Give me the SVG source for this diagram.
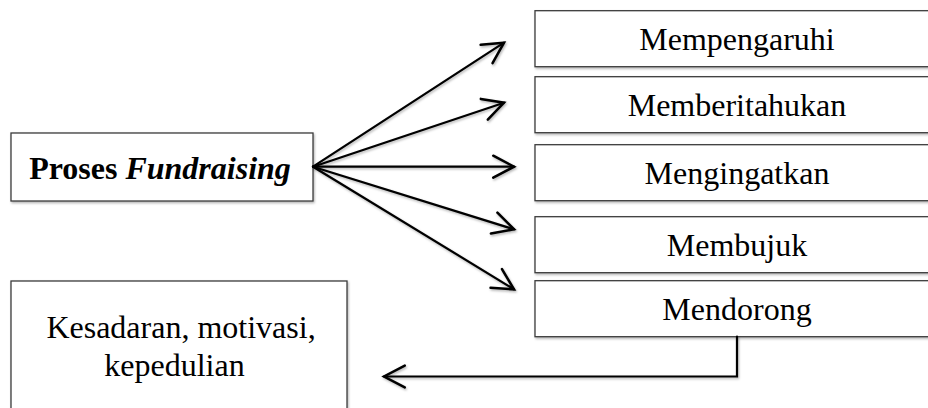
<svg xmlns="http://www.w3.org/2000/svg" width="928" height="408" viewBox="0 0 928 408">
<style>
.box{fill:#fff;stroke:#3c3c3c;stroke-width:1.3}
.t{font-family:'Liberation Serif','Times New Roman','DejaVu Serif',serif;font-size:32px;fill:#000;text-anchor:middle}
.c{fill:none;stroke:#000;stroke-width:2.2;stroke-linecap:round}
</style>
<defs>
<filter id="sh" x="-5%" y="-5%" width="115%" height="125%">
<feDropShadow dx="1" dy="1.5" stdDeviation="0.8" flood-color="#000" flood-opacity="0.3"/>
</filter>
<marker id="ah" markerUnits="userSpaceOnUse" markerWidth="30" markerHeight="30" viewBox="-22 -12 26 24" refX="0" refY="0" orient="auto">
<path d="M-18,-9.5 L0,0 L-18,9.5" fill="none" stroke="#000" stroke-width="2.2" stroke-linecap="round" stroke-linejoin="miter"/>
</marker>
</defs>
<rect width="928" height="408" fill="#fff"/>
<g id="proses">
<rect class="box" x="11" y="133" width="302" height="68" filter="url(#sh)"/>
<text class="t" x="160" y="179" font-weight="bold">Proses <tspan font-style="italic">Fundraising</tspan></text>
</g>
<g id="mempengaruhi">
<rect class="box" x="535" y="10.7" width="410" height="56" filter="url(#sh)"/>
<text class="t" x="737" y="49.5">Mempengaruhi</text>
</g>
<g id="memberitahukan">
<rect class="box" x="535" y="76.7" width="410" height="56" filter="url(#sh)"/>
<text class="t" x="737" y="115.5">Memberitahukan</text>
</g>
<g id="mengingatkan">
<rect class="box" x="535" y="144.7" width="410" height="56" filter="url(#sh)"/>
<text class="t" x="737" y="183.5">Mengingatkan</text>
</g>
<g id="membujuk">
<rect class="box" x="535" y="216.7" width="410" height="56" filter="url(#sh)"/>
<text class="t" x="737" y="255.5">Membujuk</text>
</g>
<g id="mendorong">
<rect class="box" x="535" y="280.7" width="410" height="56" filter="url(#sh)"/>
<text class="t" x="737" y="319.5">Mendorong</text>
</g>
<g id="kesadaran">
<rect class="box" x="11" y="281" width="336" height="140" filter="url(#sh)"/>
<text class="t" x="181" y="338">Kesadaran, motivasi,</text>
<text class="t" x="174.5" y="376">kepedulian</text>
</g>
<g id="connectors" filter="url(#sh)">
<line class="c" x1="313" y1="166.7" x2="504" y2="42.7" marker-end="url(#ah)"/>
<line class="c" x1="313" y1="166.7" x2="504" y2="102.7" marker-end="url(#ah)"/>
<line class="c" x1="313" y1="166.7" x2="514" y2="166.7" marker-end="url(#ah)"/>
<line class="c" x1="313" y1="166.7" x2="514" y2="229.3" marker-end="url(#ah)"/>
<line class="c" x1="313" y1="166.7" x2="514" y2="289.3" marker-end="url(#ah)"/>
<polyline class="c" points="737,336.7 737,376.5 384,376.5" marker-end="url(#ah)"/>
</g>
</svg>
